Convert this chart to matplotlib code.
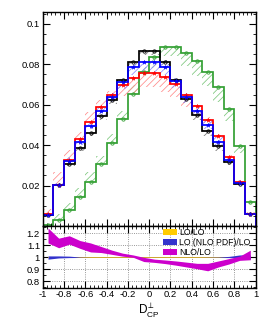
import numpy as np
import matplotlib
matplotlib.use("Agg")
import matplotlib.pyplot as plt
from matplotlib.ticker import MultipleLocator, FixedLocator
from matplotlib.patches import Patch

plt.rcParams['font.family'] = ['Liberation Sans', 'DejaVu Sans']
plt.rcParams['mathtext.fontset'] = 'custom'
plt.rcParams['mathtext.rm'] = 'Liberation Sans'
plt.rcParams['mathtext.it'] = 'Liberation Sans:italic'
plt.rcParams['hatch.linewidth'] = 0.55

# ---------------- data ----------------
bin_edges = [-1.0, -0.9, -0.8, -0.7, -0.6, -0.5, -0.4, -0.3, -0.2, -0.1, 0.0,
             0.1, 0.2, 0.3, 0.4, 0.5, 0.6, 0.7, 0.8, 0.9, 1.0]

lo_black = [0.0056, 0.0203, 0.0308, 0.0385, 0.0460, 0.0542, 0.0623, 0.0722, 0.0810, 0.0864,
            0.0864, 0.0812, 0.0720, 0.0627, 0.0547, 0.0469, 0.0395, 0.0316, 0.0210, 0.0062]
lo_nlopdf_blue = [0.0056, 0.0203, 0.0324, 0.0415, 0.0493, 0.0570, 0.0640, 0.0713, 0.0785, 0.0810,
                  0.0810, 0.0785, 0.0717, 0.0639, 0.0568, 0.0498, 0.0418, 0.0329, 0.0213, 0.0062]
red = [0.0060, 0.0205, 0.0329, 0.0432, 0.0516, 0.0590, 0.0647, 0.0697, 0.0733, 0.0757,
       0.0757, 0.0737, 0.0701, 0.0647, 0.0593, 0.0523, 0.0443, 0.0340, 0.0216, 0.0062]
green = [0.0006, 0.0031, 0.0080, 0.0144, 0.0220, 0.0306, 0.0410, 0.0528, 0.0654, 0.0763,
         0.0838, 0.0884, 0.0884, 0.0858, 0.0817, 0.0764, 0.0690, 0.0577, 0.0395, 0.0120]

# relative hatched-band edges (band = value * factor)
black_band_hi = [1.02, 1.01, 1.01, 1.01, 1.01, 1.01, 1.01, 1.01, 1.01, 1.01,
                 1.01, 1.01, 1.01, 1.01, 1.01, 1.01, 1.01, 1.01, 1.01, 1.02]
black_band_lo = [0.96, 0.97, 0.97, 0.97, 0.97, 0.97, 0.97, 0.98, 0.98, 0.98,
                 0.98, 0.98, 0.98, 0.97, 0.96, 0.95, 0.94, 0.95, 0.96, 0.96]
blue_band_hi = [1.08, 1.06, 1.06, 1.05, 1.05, 1.04, 1.03, 1.02, 1.02, 1.01,
                1.01, 1.02, 1.02, 1.03, 1.04, 1.05, 1.05, 1.06, 1.06, 1.08]
blue_band_lo = [0.97, 0.97, 0.97, 0.97, 0.97, 0.96, 0.96, 0.95, 0.95, 0.94,
                0.94, 0.95, 0.95, 0.95, 0.96, 0.96, 0.96, 0.96, 0.97, 0.97]
red_band_hi = [1.40, 1.30, 1.14, 1.08, 1.09, 1.055, 1.035, 1.0, 1.0, 1.0,
               1.0, 1.0, 1.0, 1.0, 1.01, 1.03, 1.03, 1.04, 1.06, 1.10]
red_band_lo = [1.0, 1.0, 1.0, 1.0, 1.0, 0.99, 0.96, 0.92, 0.90, 0.91,
               0.91, 0.90, 0.91, 0.91, 0.93, 0.97, 0.98, 0.98, 0.97, 0.95]
green_band_hi = [1.5, 1.9, 1.44, 1.32, 1.21, 1.14, 1.11, 1.08, 1.065, 1.03,
                 1.0, 1.0, 1.0, 1.0, 1.0, 1.0, 1.0, 1.0, 1.0, 1.0]
green_band_lo = [1.0, 1.0, 1.0, 1.0, 1.0, 1.0, 1.0, 1.0, 1.0, 0.98,
                 0.93, 0.95, 0.95, 0.92, 0.91, 0.905, 0.89, 0.90, 0.92, 0.92]

# ratio panel bands (at bin centres)
ratio_lolo_lo = [0.998] * 20
ratio_lolo_hi = [1.002] * 20
ratio_pdf_lo = [0.985, 0.995, 0.998, 0.999, 0.999, 0.999, 0.999, 0.999, 0.999, 0.999,
                0.999, 0.999, 0.999, 0.999, 0.999, 0.999, 0.999, 0.998, 0.995, 0.985]
ratio_pdf_hi = [1.012, 1.012, 1.010, 1.003, 1.001, 1.001, 1.001, 1.001, 1.001, 1.001,
                1.001, 1.001, 1.001, 1.001, 1.001, 1.002, 1.003, 1.008, 1.020, 1.020]
ratio_nlo_lo = [1.12, 1.08, 1.11, 1.075, 1.045, 1.04, 1.025, 1.01, 1.0, 0.965,
                0.958, 0.948, 0.935, 0.92, 0.905, 0.888, 0.92, 0.945, 0.975, 0.98]
ratio_nlo_hi = [1.245, 1.16, 1.18, 1.14, 1.12, 1.09, 1.06, 1.035, 1.02, 1.0,
                0.985, 0.978, 0.97, 0.96, 0.95, 0.95, 0.97, 0.99, 1.01, 1.06]

legend_labels = ["LO/LO", "LO (NLO PDF)/LO", "NLO/LO"]
xtick_vals = [-1, -0.8, -0.6, -0.4, -0.2, 0, 0.2, 0.4, 0.6, 0.8, 1]
xtick_labels = ["-1", "-0.8", "-0.6", "-0.4", "-0.2", "0", "0.2", "0.4", "0.6", "0.8", "1"]
ytick_vals = [0.02, 0.04, 0.06, 0.08, 0.1]
ytick_labels = ["0.02", "0.04", "0.06", "0.08", "0.1"]
rtick_vals = [0.8, 0.9, 1.0, 1.1, 1.2]
rtick_labels = ["0.8", "0.9", "1", "1.1", "1.2"]

# ---------------- plot ----------------
edges = np.array(bin_edges)
centers = 0.5 * (edges[1:] + edges[:-1])
widths = np.diff(edges)

fig = plt.figure(figsize=(2.66, 3.22), dpi=100)
ax = fig.add_axes([0.1605, 0.298, 0.8005, 0.6657])
rax = fig.add_axes([0.1605, 0.1065, 0.8005, 0.1915])

GREEN = '#33a033'
series = [
    (green, green_band_lo, green_band_hi, GREEN, '#7cc77c', 'o'),
    (lo_black, black_band_lo, black_band_hi, 'black', '#777777', 'o'),
    (red, red_band_lo, red_band_hi, '#ff0000', '#ff8a8a', '*'),
    (lo_nlopdf_blue, blue_band_lo, blue_band_hi, '#0000ff', '#8a8aff', '*'),
]

for vals, blo, bhi, col, hcol, mk in series:
    v = np.array(vals)
    lo = v * np.array(blo)
    hi = v * np.array(bhi)
    ax.bar(centers, hi - lo, bottom=lo, width=widths, align='center',
           facecolor='none', edgecolor=hcol, hatch='/////', linewidth=0)

for vals, blo, bhi, col, hcol, mk in series:
    ax.stairs(vals, edges, color=col, lw=1.25)
    if mk == 'o':
        ax.plot(centers, vals, ls='none', marker='o', ms=2.4, mfc='none', mec=col, mew=0.6)
    else:
        ax.plot(centers, vals, ls='none', marker='*', ms=3.2, mfc=col, mec=col, mew=0.3)

ax.set_xlim(-1, 1)
ax.set_ylim(0, 0.106)
ax.xaxis.set_major_locator(FixedLocator(xtick_vals))
ax.xaxis.set_minor_locator(MultipleLocator(0.04))
ax.yaxis.set_major_locator(FixedLocator(ytick_vals))
ax.yaxis.set_minor_locator(MultipleLocator(0.005))
ax.set_yticklabels(ytick_labels)
ax.tick_params(which='both', direction='in', top=True, right=True, labelbottom=False,
               labelsize=6.8, pad=2)
ax.tick_params(which='major', length=5, width=0.8)
ax.tick_params(which='minor', length=2.5, width=0.6)
for s in ax.spines.values():
    s.set_linewidth(1.0)

# ratio panel
c_lolo = '#ffcc00'
c_pdf = '#3333cc'
c_nlo = '#cc00cc'
rax.fill_between(centers, ratio_lolo_lo, ratio_lolo_hi, color=c_lolo, lw=0, zorder=2)
rax.fill_between(centers, ratio_pdf_lo, ratio_pdf_hi, color=c_pdf, lw=0, zorder=3)
rax.fill_between(centers, ratio_nlo_lo, ratio_nlo_hi, color=c_nlo, lw=0, zorder=4)

rax.set_xlim(-1, 1)
rax.set_ylim(0.747, 1.261)
rax.xaxis.set_major_locator(FixedLocator(xtick_vals))
rax.set_xticklabels(xtick_labels)
rax.xaxis.set_minor_locator(MultipleLocator(0.04))
rax.yaxis.set_major_locator(FixedLocator(rtick_vals))
rax.set_yticklabels(rtick_labels)
rax.yaxis.set_minor_locator(MultipleLocator(0.05))
rax.tick_params(which='both', direction='in', top=True, right=True, labelsize=6.8, pad=2)
rax.tick_params(which='major', length=5, width=0.8)
rax.tick_params(which='minor', length=2.5, width=0.6)
rax.grid(True, which='major', ls=':', color='#777777', lw=0.6, zorder=1)
for s in rax.spines.values():
    s.set_linewidth(1.0)
    s.set_zorder(6)

handles = [Patch(facecolor=c_lolo, edgecolor='none'),
           Patch(facecolor=c_pdf, edgecolor='none'),
           Patch(facecolor=c_nlo, edgecolor='none')]
leg = rax.legend(handles, legend_labels, loc='upper left', bbox_to_anchor=(0.555, 1.0),
                 frameon=False, fontsize=6.2, handlelength=1.6, handleheight=0.75,
                 handletextpad=0.3, labelspacing=0.1, borderpad=0.1, borderaxespad=0.15)
leg.set_zorder(10)

rax.set_xlabel(r'$\mathrm{D}^{\perp}_{\mathrm{CP}}$', fontsize=8.5, labelpad=1)

fig.savefig('out.png', dpi=100)
